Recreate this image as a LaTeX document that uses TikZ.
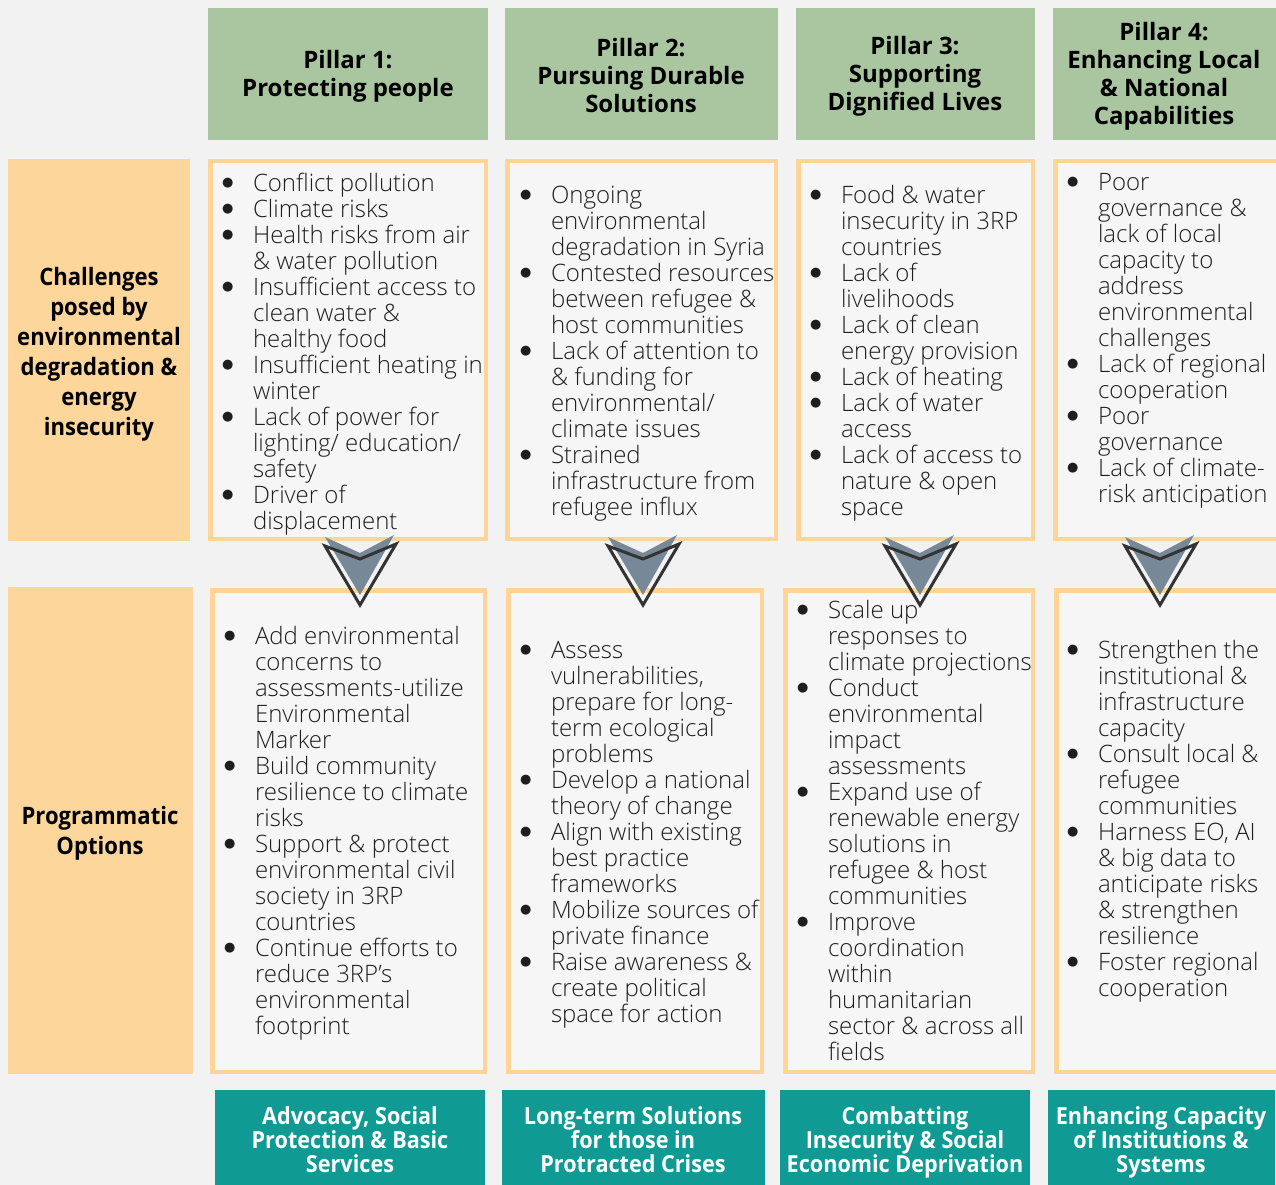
\documentclass[tikz,border=0pt]{standalone}
\usepackage{fontspec}
\usepackage{graphicx}
\usetikzlibrary{fit}
\IfFontExistsTF{Open Sans Light}{\newfontfamily\bodyfont{Open Sans Light}}{\newfontfamily\bodyfont{Open Sans}}
\newfontfamily\headfont{Open Sans}
\newfontfamily\condfont{Open Sans}[FakeStretch=0.92]
\newfontfamily\symfont{DejaVu Sans}
\definecolor{bgc}{HTML}{F2F2F2}
\definecolor{hgreen}{HTML}{AAC6A1}
\definecolor{lorange}{HTML}{FDD69B}
\definecolor{oborder}{HTML}{FFD597}
\definecolor{tealbx}{HTML}{0F9A93}
\definecolor{agray}{HTML}{778899}
\definecolor{txt}{HTML}{1E1E1E}
\newcommand\bl{\makebox[36pt][l]{\hspace{5pt}\raisebox{4.5pt}{\symfont\fontsize{13}{13}\selectfont ●}}\rule{0pt}{19pt}}
\newcommand\ct{\hspace*{36pt}}
\tikzset{
  boxbase/.style={inner sep=0pt, outer sep=0pt},
  hdr/.style={boxbase, fill=hgreen, align=center, text=black,
    font=\headfont\bfseries\fontsize{24}{28}\selectfont},
  lbl/.style={boxbase, fill=lorange, align=center, text=black,
    font=\condfont\bfseries\fontsize{24}{30}\selectfont},
  obox/.style={boxbase, draw=oborder, line width=4.5pt, fill=bgc!70!white},
  tbox/.style={boxbase, fill=tealbx, align=center, text=white,
    font=\condfont\bfseries\fontsize{23.5}{24}\selectfont},
  body/.style={boxbase, anchor=north west, align=left, text=txt,
    font=\bodyfont\fontsize{24}{26}\selectfont},
  chev/.style={fill=agray},
  chevline/.style={draw=black!80, line width=3pt, line join=miter}
}
\newcommand\chevron[1]{%
  \begin{scope}[shift={(#1,0)}]
    \fill[chev] (-35,537) -- (0,553) -- (34,535) -- (0,595) -- cycle;
    \draw[chevline] (-35,546) -- (0,559) -- (36,544) -- (0,605) -- cycle;
  \end{scope}}
\begin{document}
\begin{tikzpicture}[x=1pt,y=-1pt]
\fill[bgc] (0,0) rectangle (1276,1185);
\useasboundingbox (0,0) rectangle (1276,1185);

% headers
\node[hdr, fit={(208,8)(488,140)}] (h1) {};
\node[hdr, fit={(505,8)(778,140)}] (h2) {};
\node[hdr, fit={(796,8)(1035,140)}] (h3) {};
\node[hdr, fit={(1053,8)(1282,140)}] (h4) {};
\node[hdr, fill=none] (h1t) at (348,76) {Pillar 1:\\Protecting people};
\node[hdr, fill=none] (h2t) at (641,76) {Pillar 2:\\Pursuing Durable\\Solutions};
\node[hdr, fill=none] (h3t) at (915,76) {Pillar 3:\\Supporting\\Dignified Lives};
\node[hdr, fill=none] (h4t) at (1164,76) {Pillar 4:\\Enhancing Local\\\& National\\Capabilities};

% left labels
\node[lbl, fit={(8,159)(190,541)}] (l1) {};
\node[lbl, fit={(8,587)(193,1074)}] (l2) {};
\node[lbl, fill=none] (l1t) at (99,354) {Challenges\\posed by\\environmental\\degradation \&\\energy\\insecurity};
\node[lbl, fill=none] (l2t) at (100,833) {Programmatic\\Options};

% challenge boxes
\node[obox, fit={(210.25,161.25)(485.75,538.75)}] (c1) {};
\node[obox, fit={(507.25,161.25)(775.75,538.75)}] (c2) {};
\node[obox, fit={(798.25,161.25)(1032.75,538.75)}] (c3) {};
\node[obox, fit={(1055.25,161.25)(1290,538.75)}] (c4) {};

% programmatic boxes
\node[obox, fit={(212.25,590.25)(484.75,1071.75)}] (r1) {};
\node[obox, fit={(508.25,590.25)(761.75,1071.75)}] (r2) {};
\node[obox, fit={(785.25,590.25)(1032.75,1071.75)}] (r3) {};
\node[obox, fit={(1056.25,590.25)(1290,1071.75)}] (r4) {};

% teal boxes
\node[tbox, fit={(215,1090)(485,1195)}] (t1) {};
\node[tbox, fit={(502,1090)(765,1195)}] (t2) {};
\node[tbox, fit={(780,1090)(1030,1195)}] (t3) {};
\node[tbox, fit={(1048,1090)(1275,1195)}] (t4) {};
\node[tbox, fill=none] (t1t) at (350,1140) {Advocacy, Social\\Protection \& Basic\\Services};
\node[tbox, fill=none] (t2t) at (633,1140) {Long-term Solutions\\for those in\\Protracted Crises};
\node[tbox, fill=none] (t3t) at (905,1142) {Combatting\\Insecurity \& Social\\Economic Deprivation};
\node[tbox, fill=none] (t4t) at (1161,1142) {Enhancing Capacity\\of Institutions \&\\Systems};

% challenge texts
\node[body] (c1t) at (217,172) {\bl Conflict pollution\\
\bl Climate risks\\
\bl Health risks from air\\
\ct \& water pollution\\
\bl Insufficient access to\\
\ct clean water \&\\
\ct healthy food\\
\bl Insufficient heating in\\
\ct winter\\
\bl Lack of power for\\
\ct lighting/ education/\\
\ct safety\\
\bl Driver of\\
\ct displacement};

\node[body] (c2t) at (515,184) {\bl Ongoing\\
\ct environmental\\
\ct degradation in Syria\\
\bl Contested resources\\
\ct between refugee \&\\
\ct host communities\\
\bl Lack of attention to\\
\ct \& funding for\\
\ct environmental/\\
\ct climate issues\\
\bl Strained\\
\ct infrastructure from\\
\ct refugee influx};

\node[body] (c3t) at (805,184) {\bl Food \& water\\
\ct insecurity in 3RP\\
\ct countries\\
\bl Lack of\\
\ct livelihoods\\
\bl Lack of clean\\
\ct energy provision\\
\bl Lack of heating\\
\bl Lack of water\\
\ct access\\
\bl Lack of access to\\
\ct nature \& open\\
\ct space};

\node[body] (c4t) at (1062,171) {\bl Poor\\
\ct governance \&\\
\ct lack of local\\
\ct capacity to\\
\ct address\\
\ct environmental\\
\ct challenges\\
\bl Lack of regional\\
\ct cooperation\\
\bl Poor\\
\ct governance\\
\bl Lack of climate-\\
\ct risk anticipation};

% programmatic texts
\node[body] (r1t) at (219,625) {\bl Add environmental\\
\ct concerns to\\
\ct assessments-utilize\\
\ct Environmental\\
\ct Marker\\
\bl Build community\\
\ct resilience to climate\\
\ct risks\\
\bl Support \& protect\\
\ct environmental civil\\
\ct society in 3RP\\
\ct countries\\
\bl Continue efforts to\\
\ct reduce 3RP’s\\
\ct environmental\\
\ct footprint};

\node[body] (r2t) at (515,639) {\bl Assess\\
\ct vulnerabilities,\\
\ct prepare for long-\\
\ct term ecological\\
\ct problems\\
\bl Develop a national\\
\ct theory of change\\
\bl Align with existing\\
\ct best practice\\
\ct frameworks\\
\bl Mobilize sources of\\
\ct private finance\\
\bl Raise awareness \&\\
\ct create political\\
\ct space for action};

\node[body] (r3t) at (792,599) {\bl Scale up\\
\ct responses to\\
\ct climate projections\\
\bl Conduct\\
\ct environmental\\
\ct impact\\
\ct assessments\\
\bl Expand use of\\
\ct renewable energy\\
\ct solutions in\\
\ct refugee \& host\\
\ct communities\\
\bl Improve\\
\ct coordination\\
\ct within\\
\ct humanitarian\\
\ct sector \& across all\\
\ct fields};

\node[body] (r4t) at (1062,639) {\bl Strengthen the\\
\ct institutional \&\\
\ct infrastructure\\
\ct capacity\\
\bl Consult local \&\\
\ct refugee\\
\ct communities\\
\bl Harness EO, AI\\
\ct \& big data to\\
\ct anticipate risks\\
\ct \& strengthen\\
\ct resilience\\
\bl Foster regional\\
\ct cooperation};

% chevrons between challenge and programmatic boxes
\chevron{360}
\chevron{643}
\chevron{920}
\chevron{1160}
\end{tikzpicture}
\end{document}
